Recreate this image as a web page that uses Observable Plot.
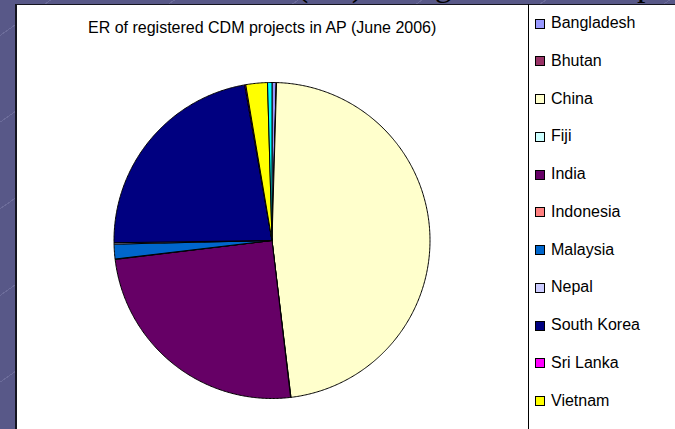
<!DOCTYPE html>
<html>
<head>
<meta charset="utf-8">
<script src="https://cdn.jsdelivr.net/npm/d3@7"></script>
<script src="https://cdn.jsdelivr.net/npm/@observablehq/plot@0.6"></script>
<style>
  html, body { margin: 0; padding: 0; width: 675px; height: 429px; overflow: hidden; }
  body {
    position: relative;
    background-color: #585888;
    background-image: repeating-linear-gradient(-35deg, rgba(255,255,255,0) 0px, rgba(255,255,255,0) 70px, rgba(200,200,235,0.18) 70px, rgba(200,200,235,0.18) 71px);
    font-family: "Liberation Sans", Arial, sans-serif;
  }
  #slideTitle {
    position: absolute; top: -32.5px; left: 0; white-space: nowrap;
    font-family: "Liberation Serif", "Times New Roman", serif; font-size: 34px; line-height: 34px; color: #000;
  }
  #panel {
    position: absolute; left: 15px; top: 4px; width: 660px; height: 425px;
    background: #fff; border-left: 2px solid #151520; border-top: 1px solid #151520; box-sizing: border-box;
  }
  #divider { position: absolute; left: 528px; top: 4px; width: 1px; height: 425px; background: #000; }
  #chartTitle {
    position: absolute; left: 88px; top: 20px; white-space: nowrap;
    font-size: 16px; line-height: 16px; color: #000;
  }
  #plotHolder { position: absolute; left: 17px; top: 5px; }
  #plotHolder svg { background: transparent !important; }
  .lg-sq { position: absolute; width: 10px; height: 10px; box-sizing: border-box; border: 1px solid #000; left: 535px; }
  .lg-tx { position: absolute; left: 551px; font-size: 16px; line-height: 16px; color: #000; white-space: nowrap; }
</style>
</head>
<body>
<div id="slideTitle"><span id="stPre">Emission Reductions </span><span>(ER) of registered CDM projects</span></div>
<div id="panel"></div>
<div id="divider"></div>
<div id="chartTitle"></div>
<div id="plotHolder"></div>
<div id="legend"></div>
<script>
// ---- data ----
const countries = ["Bangladesh", "Bhutan", "China", "Fiji", "India", "Indonesia", "Malaysia", "Nepal", "South Korea", "Sri Lanka", "Vietnam", "Others"];
const shares    = [0.42, 0.04, 47.5, 0.04, 24.9, 0.04, 1.5, 0.14, 22.4, 0.11, 2.2, 0.45];
const colors    = ["#9999FF", "#993366", "#FFFFCC", "#CCFFFF", "#660066", "#FF8080", "#0066CC", "#CCCCFF", "#000080", "#FF00FF", "#FFFF00", "#00FFFF"];
const chartTitle = "ER of registered CDM projects in AP (June 2006)";

// slide title alignment (only its descenders peek above the panel)
const pre = document.getElementById("stPre");
document.getElementById("slideTitle").style.left = (297 - pre.getBoundingClientRect().width) + "px";

document.getElementById("chartTitle").textContent = chartTitle;

// ---- pie geometry from the values ----
const table = countries.map((name, i) => ({name, share: shares[i]}));
const arcs = d3.pie().sort(null).value(d => d.share)(table);
const pts = [];
for (const a of arcs) {
  const name = a.data.name;
  pts.push({name, x: 0, y: 0});
  const n = Math.max(2, Math.ceil((a.endAngle - a.startAngle) / (Math.PI / 360)));
  for (let i = 0; i <= n; i++) {
    const t = a.startAngle + (a.endAngle - a.startAngle) * i / n;
    pts.push({name, x: Math.sin(t), y: Math.cos(t)});
  }
  pts.push({name, x: 0, y: 0});
}

const chart = Plot.plot({
  width: 510,
  height: 424,
  margin: 0,
  x: {domain: [-1, 1], range: [96.5, 412.5], axis: null},
  y: {domain: [-1, 1], range: [393, 77], axis: null},
  color: {domain: countries, range: colors},
  style: {background: "transparent"},
  marks: [
    Plot.line(pts, {x: "x", y: "y", z: "name", fill: "name", stroke: "#000", strokeWidth: 1, strokeLinejoin: "round"})
  ]
});
document.getElementById("plotHolder").appendChild(chart);

// ---- legend (rows that fall below the visible panel are not drawn) ----
const legend = document.getElementById("legend");
countries.forEach((name, i) => {
  const cy = 23.5 + i * 37.75;
  if (cy + 8 > 429) return;
  const sq = document.createElement("div");
  sq.className = "lg-sq";
  sq.style.top = (cy - 5) + "px";
  sq.style.background = colors[i];
  legend.appendChild(sq);
  const tx = document.createElement("div");
  tx.className = "lg-tx";
  tx.style.top = (cy - 8.5) + "px";
  tx.textContent = name;
  legend.appendChild(tx);
});
</script>
</body>
</html>
